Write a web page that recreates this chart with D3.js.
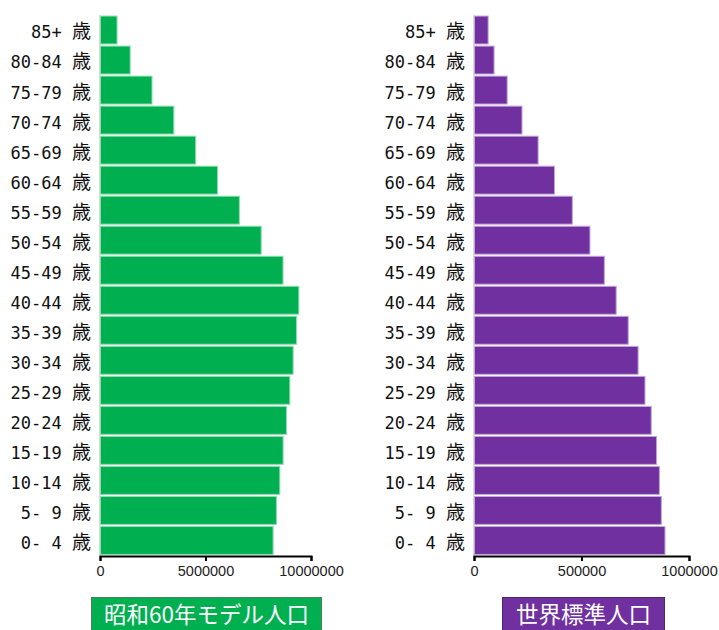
<!DOCTYPE html>
<html>
<head>
<meta charset="utf-8">
<script src="https://cdn.jsdelivr.net/npm/d3@7"></script>
<style>
  html, body { margin: 0; padding: 0; background: #fff; }
  svg { display: block; }
</style>
</head>
<body>
<svg id="chart" width="719" height="630"></svg>
<script>
// ---- data ----
const ageGroups = ["0- 4", "5- 9", "10-14", "15-19", "20-24", "25-29", "30-34", "35-39", "40-44",
  "45-49", "50-54", "55-59", "60-64", "65-69", "70-74", "75-79", "80-84", "85+"];
const ageSuffix = "歳";
const showa60Model = [8180000, 8338000, 8497000, 8655000, 8814000, 8972000, 9130000, 9289000, 9400000,
  8651000, 7616000, 6581000, 5546000, 4511000, 3476000, 2441000, 1406000, 784000];
const worldStandard = [886000, 869000, 860000, 847000, 822000, 793000, 761000, 715000, 659000,
  604000, 537000, 455000, 372000, 296000, 221000, 152000, 91000, 63500];
const leftTicks = [0, 5000000, 10000000];
const rightTicks = [0, 500000, 1000000];
const leftTitle = "昭和60年モデル人口";
const rightTitle = "世界標準人口";

const svg = d3.select("#chart");

const y = d3.scaleBand()
  .domain(ageGroups.slice().reverse())
  .range([15, 555.5])
  .paddingInner(0.07)
  .paddingOuter(0.035);

function panel(opts) {
  const g = svg.append("g");
  const x = d3.scaleLinear().domain(opts.domain).range([opts.x0, opts.x1]);

  // vertical axis line (light)
  g.append("line")
    .attr("x1", opts.x0 - 0.5).attr("x2", opts.x0 - 0.5)
    .attr("y1", 15).attr("y2", 556)
    .attr("stroke", "#d8d8d8").attr("stroke-width", 1);

  // bars
  g.selectAll("rect.bar")
    .data(opts.values.map((v, i) => ({ v, age: ageGroups[i] })))
    .join("rect")
    .attr("class", "bar")
    .attr("x", x(0) + 0.5)
    .attr("y", d => y(d.age))
    .attr("width", d => x(d.v) - x(0))
    .attr("height", y.bandwidth())
    .attr("fill", opts.color)
    .attr("stroke", opts.edge)
    .attr("stroke-width", 1);

  // y labels
  const yAxis = g.append("g")
    .attr("transform", `translate(${opts.x0},3)`)
    .call(d3.axisLeft(y).tickSize(0).tickPadding(9));
  yAxis.select(".domain").remove();
  yAxis.selectAll(".tick text")
    .attr("fill", "#111")
    .attr("font-family", "'DejaVu Sans Mono', monospace")
    .attr("font-size", 17)
    .each(function(d) {
      const t = d3.select(this);
      t.text(null);
      t.append("tspan").text(d + " ");
      t.append("tspan")
        .attr("font-family", "'Noto Sans CJK JP', sans-serif")
        .attr("font-size", 19)
        .text(ageSuffix);
    });

  // bottom axis
  const xAxis = g.append("g")
    .attr("transform", "translate(0,556)")
    .call(d3.axisBottom(x).tickValues(opts.ticks).tickFormat(d3.format("d")).tickSize(5).tickSizeOuter(5).tickPadding(5));
  xAxis.select(".domain").attr("stroke", "#000").attr("stroke-width", 2);
  xAxis.selectAll(".tick line").attr("stroke", "#000").attr("stroke-width", 2);
  xAxis.selectAll(".tick text")
    .attr("fill", "#222")
    .attr("font-family", "'Liberation Sans', Arial, sans-serif")
    .attr("font-size", 14.5);

  // title box
  g.append("rect")
    .attr("x", opts.box[0] + 0.5).attr("y", 597.5)
    .attr("width", opts.box[1] - opts.box[0]).attr("height", 40)
    .attr("fill", opts.color)
    .attr("stroke", opts.boxStroke).attr("stroke-width", 1);
  g.append("text")
    .attr("x", (opts.box[0] + opts.box[1]) / 2 + 0.5)
    .attr("y", 623)
    .attr("text-anchor", "middle")
    .attr("fill", "#fff")
    .attr("font-family", "'Noto Sans CJK JP', sans-serif")
    .attr("font-size", 22.5)
    .text(opts.title);
}

panel({
  values: showa60Model, domain: [0, 10000000], ticks: leftTicks,
  x0: 100, x1: 311, color: "#00b050", edge: "#8fdcb0",
  box: [91, 321], boxStroke: "#4f7f5f", title: leftTitle
});
panel({
  values: worldStandard, domain: [0, 1000000], ticks: rightTicks,
  x0: 474, x1: 689, color: "#7030a0", edge: "#c4a6da",
  box: [502, 664], boxStroke: "#4a2a66", title: rightTitle
});
</script>
</body>
</html>
